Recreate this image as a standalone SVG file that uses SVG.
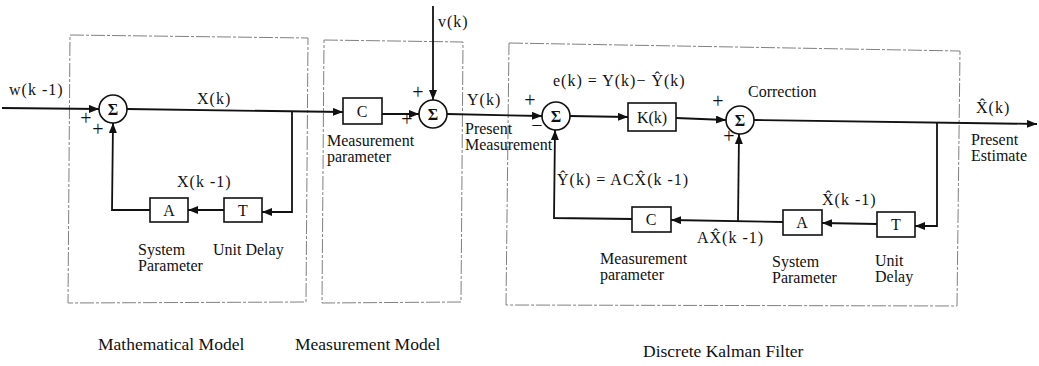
<svg xmlns="http://www.w3.org/2000/svg" width="1039" height="366" viewBox="0 0 1039 366">
<style>
.frame{fill:none;stroke:#808080;stroke-width:1;stroke-dasharray:14 2 3 2}
.blk{fill:#fff;stroke:#111;stroke-width:1.6}
.wire{fill:none;stroke:#111;stroke-width:1.8}
text{font-family:"Liberation Serif","Times New Roman",serif;fill:#111}
.lbl{font-size:16px}
.math{font-size:16px;letter-spacing:1px}
.big{font-size:17.5px}
.sign{font-size:20px;text-anchor:middle;fill:#111}
.sym{font-size:16px;text-anchor:middle}
.sig{font-size:16px;font-weight:bold;text-anchor:middle}
</style>
<defs>
<marker id="arr" markerUnits="userSpaceOnUse" markerWidth="11" markerHeight="8" refX="10" refY="4" orient="auto">
<path d="M0,0 L10,4 L0,8 z" fill="#111"/>
</marker>
</defs>
<rect width="1039" height="366" fill="#fff"/>

<g id="frames">
<path class="frame" d="M70,35 L308,38 L306,302 L68,303 Z"/>
<path class="frame" d="M324,40 L463,42 L461,302 L322,303 Z"/>
<path class="frame" d="M509,43 L960,51 L957,306 L506,305 Z"/>
<text class="big" x="98" y="350">Mathematical Model</text>
<text class="big" x="295" y="350">Measurement Model</text>
<text class="big" x="643" y="357">Discrete Kalman Filter</text>
</g>

<g id="connectors">
<path class="wire" d="M2,108 L99,109" marker-end="url(#arr)"/>
<path class="wire" d="M127,109 L343,112" marker-end="url(#arr)"/>
<path class="wire" d="M292,111 L292,212 L262,212" marker-end="url(#arr)"/>
<path class="wire" d="M224,210 L188,210" marker-end="url(#arr)"/>
<path class="wire" d="M150,210 L112,210 L113,123" marker-end="url(#arr)"/>
<path class="wire" d="M382,114 L419,114" marker-end="url(#arr)"/>
<path class="wire" d="M433,6 L433,100" marker-end="url(#arr)"/>
<path class="wire" d="M447,114 L542,116" marker-end="url(#arr)"/>
<path class="wire" d="M570,116 L628,117" marker-end="url(#arr)"/>
<path class="wire" d="M676,118 L726,120" marker-end="url(#arr)"/>
<path class="wire" d="M754,120 L1037,124" marker-end="url(#arr)"/>
<path class="wire" d="M937,123 L937,226 L915,226" marker-end="url(#arr)"/>
<path class="wire" d="M877,224 L822,223" marker-end="url(#arr)"/>
<path class="wire" d="M783,222 L671,220" marker-end="url(#arr)"/>
<path class="wire" d="M738,221 L739,134" marker-end="url(#arr)"/>
<path class="wire" d="M632,219 L554,218 L555,130" marker-end="url(#arr)"/>
</g>

<g id="signals">
<text class="math" x="9" y="95">w(k -1)</text>
<text class="math" x="197" y="104">X(k)</text>
<text class="math" x="177" y="187">X(k -1)</text>
<text class="math" x="438" y="27">v(k)</text>
<text class="math" x="467" y="105">Y(k)</text>
<text class="lbl" x="465" y="134">Present</text>
<text class="lbl" x="465" y="150">Measurement</text>
<text class="math" x="553" y="86">e(k) = Y(k)− Ŷ(k)</text>
<text class="lbl" x="748" y="97">Correction</text>
<text class="math" x="976" y="113">X̂(k)</text>
<text class="lbl" x="971" y="145">Present</text>
<text class="lbl" x="971" y="161">Estimate</text>
<text class="math" x="557" y="185">Ŷ(k) = ACX̂(k -1)</text>
<text class="math" x="822" y="205">X̂(k -1)</text>
<text class="math" x="697" y="243">AX̂(k -1)</text>
</g>

<g id="sum1">
<circle class="blk" cx="113" cy="109" r="14"/>
<text class="sig" x="113" y="115">Σ</text>
<text class="sign" x="86" y="125">+</text>
<text class="sign" x="98" y="136">+</text>
</g>
<g id="blockA1">
<rect class="blk" x="150" y="198" width="38" height="24"/>
<text class="sym" x="169" y="216">A</text>
<text class="lbl" x="138" y="255">System</text>
<text class="lbl" x="138" y="271">Parameter</text>
</g>
<g id="blockT1">
<rect class="blk" x="224" y="198" width="38" height="24"/>
<text class="sym" x="243" y="216">T</text>
<text class="lbl" x="213" y="255">Unit Delay</text>
</g>
<g id="blockC1">
<rect class="blk" x="343" y="98" width="39" height="26"/>
<text class="sym" x="362" y="117">C</text>
<text class="lbl" x="327" y="146">Measurement</text>
<text class="lbl" x="327" y="162">parameter</text>
</g>
<g id="sum2">
<circle class="blk" cx="433" cy="114" r="14"/>
<text class="sig" x="433" y="120">Σ</text>
<text class="sign" x="418" y="99">+</text>
<text class="sign" x="407" y="126">+</text>
</g>
<g id="sum3">
<circle class="blk" cx="556" cy="116" r="14"/>
<text class="sig" x="556" y="122">Σ</text>
<text class="sign" x="530" y="107">+</text>
<text class="sign" x="537" y="132">−</text>
</g>
<g id="blockK">
<rect class="blk" x="628" y="103" width="48" height="28"/>
<text class="sym" x="652" y="123">K(k)</text>
</g>
<g id="sum4">
<circle class="blk" cx="740" cy="120" r="14"/>
<text class="sig" x="740" y="126">Σ</text>
<text class="sign" x="718" y="108">+</text>
<text class="sign" x="729" y="143">+</text>
</g>
<g id="blockC2">
<rect class="blk" x="632" y="207" width="39" height="25"/>
<text class="sym" x="651" y="225">C</text>
<text class="lbl" x="600" y="264">Measurement</text>
<text class="lbl" x="600" y="280">parameter</text>
</g>
<g id="blockA2">
<rect class="blk" x="783" y="210" width="39" height="25"/>
<text class="sym" x="802" y="228">A</text>
<text class="lbl" x="772" y="267">System</text>
<text class="lbl" x="772" y="283">Parameter</text>
</g>
<g id="blockT2">
<rect class="blk" x="877" y="212" width="38" height="25"/>
<text class="sym" x="896" y="230">T</text>
<text class="lbl" x="875" y="266">Unit</text>
<text class="lbl" x="875" y="282">Delay</text>
</g>
</svg>
